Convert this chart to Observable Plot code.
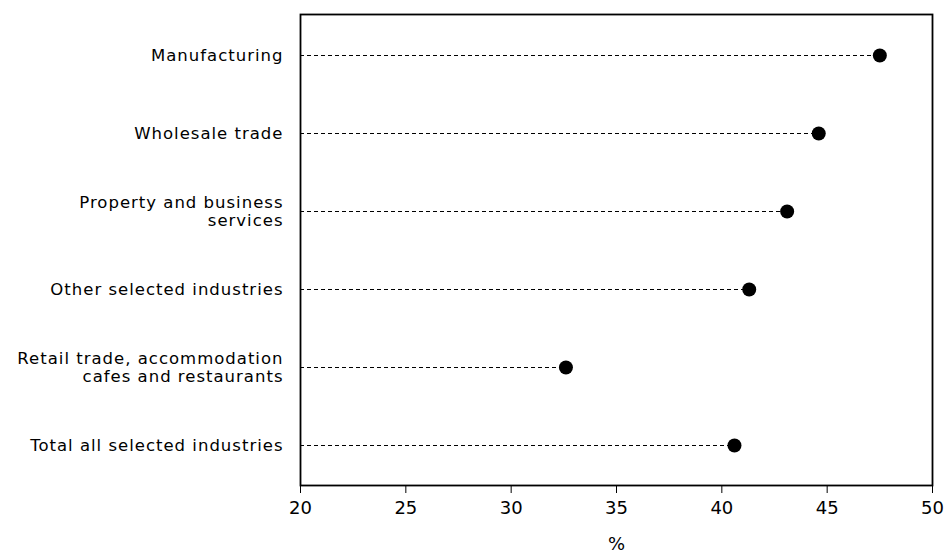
<!DOCTYPE html>
<html>
<head>
<meta charset="utf-8">
<script src="https://cdn.jsdelivr.net/npm/d3@7"></script>
<script src="https://cdn.jsdelivr.net/npm/@observablehq/plot@0.6"></script>
<style>
  html, body { margin: 0; padding: 0; background: #fff; }
  #chart svg { font-family: "DejaVu Sans", "Liberation Sans", Arial, sans-serif; }
  #chart svg g[aria-label="y-axis tick label"] text { letter-spacing: 1px; }
</style>
</head>
<body>
<div id="chart"></div>
<script>
const categories = [
  "Manufacturing",
  "Wholesale trade",
  "Property and business\nservices",
  "Other selected industries",
  "Retail trade, accommodation\ncafes and restaurants",
  "Total all selected industries"
];
const values = [47.5, 44.6, 43.1, 41.3, 32.6, 40.6];
const xTicks = [20, 25, 30, 35, 40, 45, 50];
const xLabel = "%";

const data = categories.map((c, i) => ({cat: c, value: values[i]}));
const xMin = xTicks[0];

const chart = Plot.plot({
  width: 946,
  height: 554,
  marginLeft: 300,
  marginRight: 14,
  marginTop: 14,
  marginBottom: 69,
  style: {background: "#fff", color: "#000"},
  x: {domain: [xTicks[0], xTicks[xTicks.length - 1]]},
  y: {domain: categories},
  marks: [
    Plot.ruleY(data, {y: "cat", x1: () => xMin, x2: "value", stroke: "#000", strokeWidth: 1, strokeDasharray: "4,3"}),
    Plot.dot(data, {x: "value", y: "cat", r: 7, fill: "#000", stroke: "none"}),
    Plot.frame({stroke: "#000", strokeWidth: 1.8}),
    Plot.axisX({ticks: xTicks, tickSize: 8, tickPadding: 8, fontSize: 18, label: xLabel, labelAnchor: "center", labelArrow: "none", labelOffset: 64}),
    Plot.axisY({tickSize: 0, tickPadding: 17, fontSize: 16.5, lineHeight: 1.1, label: null})
  ]
});
document.getElementById("chart").appendChild(chart);
</script>
</body>
</html>
